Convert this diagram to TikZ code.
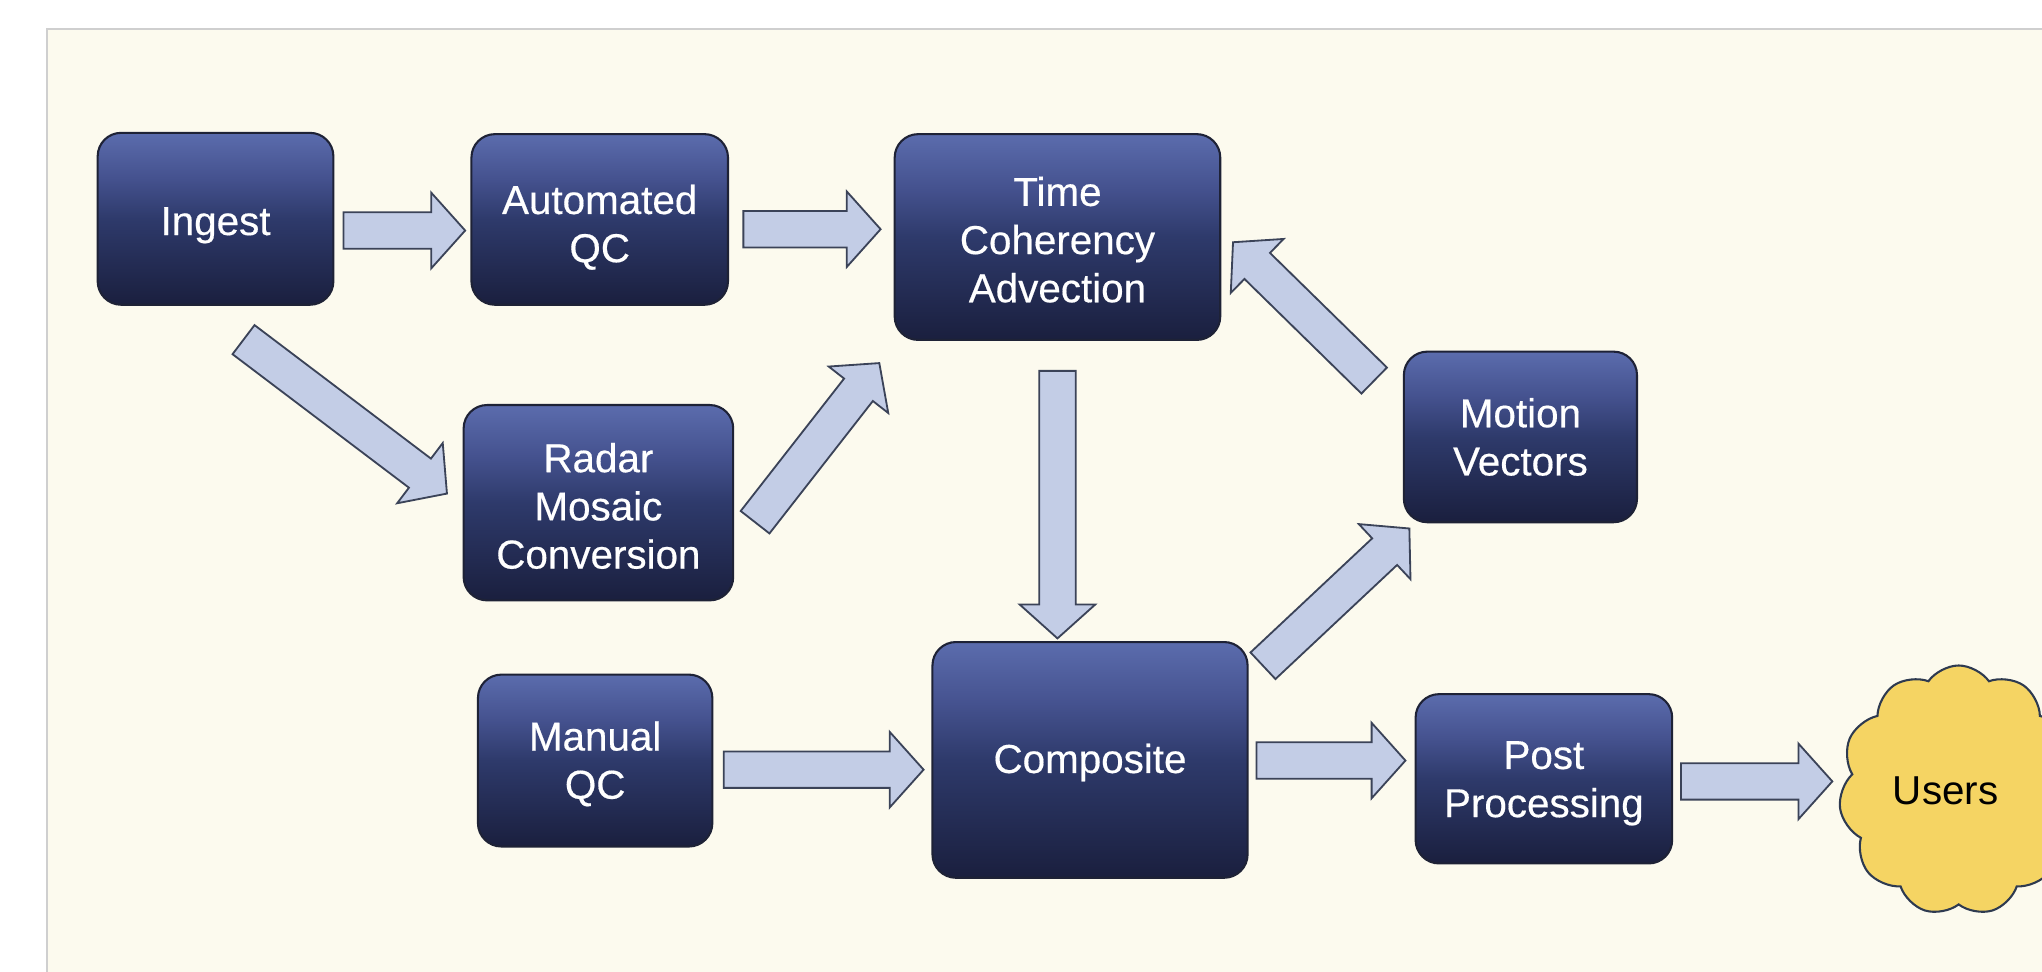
\documentclass[tikz,border=0pt]{standalone}
\usepackage{fontspec}
\setmainfont{Liberation Sans}
\newfontfamily\boxfont[FakeBold=0.4]{Liberation Sans}
\usetikzlibrary{calc,shapes.symbols}
\definecolor{navytop}{HTML}{5B6CAD}
\definecolor{navyup}{HTML}{45528F}
\definecolor{navymid}{HTML}{2E3A6B}
\definecolor{navybot}{HTML}{1A1F3E}
\definecolor{boxline}{HTML}{1E2236}
\definecolor{arrfill}{HTML}{C3CDE6}
\definecolor{arrline}{HTML}{3B4358}
\definecolor{panel}{HTML}{FCFAEE}
\definecolor{panelline}{HTML}{CFCFCF}
\definecolor{cloudfill}{HTML}{F5D463}
\definecolor{cloudline}{HTML}{2E3A50}
\pgfdeclareverticalshading{navyshade}{100bp}{color(0bp)=(navybot); color(25bp)=(navybot); color(50bp)=(navymid); color(62bp)=(navyup); color(75bp)=(navytop); color(100bp)=(navytop)}
\newcommand\blockarr[2]{%
  \coordinate (bS) at ($#1$);
  \coordinate (bE) at ($#2$);
  \coordinate (bB) at ($(bE)!13pt!(bS)$);
  \draw[barr] ($(bS)!7pt!90:(bE)$) -- ($(bB)!7pt!90:(bE)$) -- ($(bB)!14.5pt!90:(bE)$) -- (bE) -- ($(bB)!14.5pt!-90:(bE)$) -- ($(bB)!7pt!-90:(bE)$) -- ($(bS)!7pt!-90:(bE)$) -- cycle;
}
\begin{document}
\begin{tikzpicture}[x=0.5pt,y=-0.5pt,
  box/.style={rounded corners=9pt, draw=boxline, line width=0.8pt, shading=navyshade, inner sep=0pt},
  lbl/.style={text=white, align=center, font=\boxfont\fontsize{15.5pt}{18.5pt}\selectfont, inner sep=0pt},
  barr/.style={fill=arrfill, draw=arrline, line width=0.7pt, line join=miter}]
\useasboundingbox (0,0) rectangle (1568,746);
\clip (0,0) rectangle (1568,746);
\fill[white] (0,0) rectangle (1568,746);
\draw[fill=panel, draw=panelline, line width=0.8pt] (36,22) rectangle (1600,780);

\node[box, minimum width=90.5pt, minimum height=66pt, label={[lbl, yshift=-2.5pt]center:Ingest}] (ingest) at (165.5,168) {};
\node[box, minimum width=98.5pt, minimum height=65.5pt, label={[lbl, yshift=-3pt]center:Automated\\QC}] (aqc) at (460.5,168.5) {};
\node[box, minimum width=125pt, minimum height=79pt, label={[lbl, yshift=-1pt]center:Time\\Coherency\\Advection}] (tca) at (812,182) {};
\node[box, minimum width=103.5pt, minimum height=75pt, label={[lbl, yshift=-1.25pt]center:Radar\\Mosaic\\Conversion}] (radar) at (459.5,386) {};
\node[box, minimum width=89.5pt, minimum height=65.5pt, label={[lbl]center:Motion\\Vectors}] (mv) at (1167.5,335.5) {};
\node[box, minimum width=90pt, minimum height=66pt, label={[lbl, yshift=-1.25pt]center:Manual\\QC}] (manual) at (457,584) {};
\node[box, minimum width=121pt, minimum height=90.5pt, label={[lbl, yshift=-1pt]center:Composite}] (comp) at (837,583.5) {};
\node[box, minimum width=98.5pt, minimum height=65pt, label={[lbl, yshift=-1.75pt]center:Post\\Processing}] (pp) at (1185.5,598) {};
\node[cloud, cloud puffs=11, cloud puff arc=110, cloud ignores aspect, minimum width=92pt, minimum height=96pt, fill=cloudfill, draw=cloudline, line width=0.8pt, inner sep=0pt, label={[font=\fontsize{15.5pt}{18.5pt}\selectfont, inner sep=0pt, text depth=0pt, xshift=-5pt]center:Users}] (users) at (1504,607) {};

\blockarr{(ingest.east)+(7,9)}{(aqc.west)+(-4,8.5)}
\blockarr{(aqc.east)+(11,7.5)}{(tca.west)+(-10,-6)}
\blockarr{(ingest.south)+(21.5,26)}{(radar.west)+(-12,-7)}
\blockarr{(radar.east)+(16,15)}{(tca.south west)+(-11,17)}
\blockarr{(tca.south)+(0,23)}{(comp.north)+(-25,-2)}
\blockarr{(manual.east)+(8,7)}{(comp.west)+(-6,7.5)}
\blockarr{(comp.north east)+(11,19)}{(mv.south west)+(5,4)}
\blockarr{(mv.north west)+(-22,23)}{(tca.east)+(9,4)}
\blockarr{(comp.east)+(6,0.5)}{(pp.west)+(-7,-14)}
\blockarr{(pp.east)+(6,2)}{(users.center)+(-97,-7)}
\end{tikzpicture}
\end{document}
